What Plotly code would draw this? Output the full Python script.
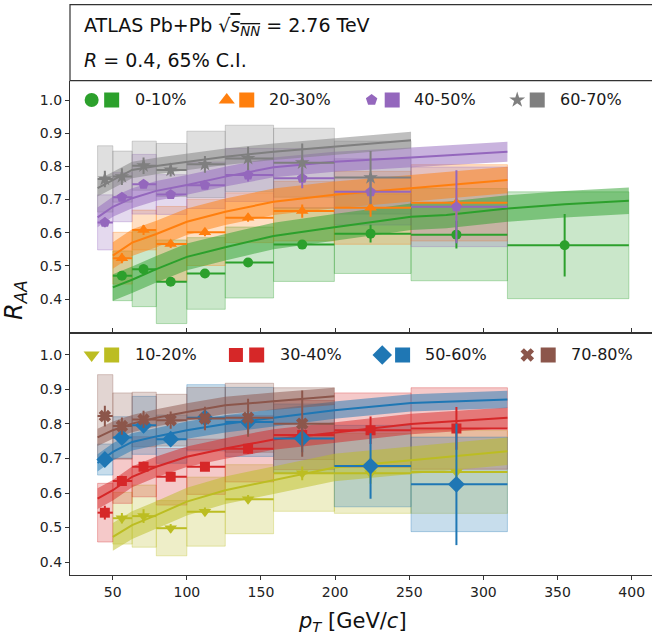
import plotly.graph_objects as go

# ---------------------------------------------------------------- data
pt_edges = [39.8, 50.1, 63.1, 79.4, 100.0, 125.9, 158.5, 199.5, 251.2, 316.2, 398.1]
pt_centers = [44.7, 56.2, 70.8, 89.1, 112.2, 141.3, 177.8, 223.9, 281.8, 354.8]

# top panel
raa_0_10 = [None, 0.470, 0.490, 0.452, 0.477, 0.510, 0.564, 0.597, 0.594, 0.562]
stat_0_10 = [None, 0.012, 0.015, 0.010, 0.010, 0.010, 0.012, 0.027, 0.042, 0.094]
sys_0_10 = [None, 0.075, 0.113, 0.126, 0.108, 0.107, 0.111, 0.120, 0.139, 0.161]

raa_20_30 = [None, 0.523, 0.608, 0.566, 0.601, 0.645, 0.665, 0.675, 0.690, None]
stat_20_30 = [None, 0.015, 0.015, 0.012, 0.012, 0.012, 0.020, 0.027, 0.040, None]
sys_20_30 = [None, 0.078, 0.060, 0.113, 0.100, 0.075, 0.090, 0.110, 0.115, None]

raa_40_50 = [0.631, 0.707, 0.746, 0.715, 0.743, 0.774, 0.764, 0.723, 0.678, None]
stat_40_50 = [0.015, 0.012, 0.012, 0.012, 0.012, 0.020, 0.030, 0.035, 0.110, None]
sys_40_50 = [0.083, 0.074, 0.090, 0.060, 0.070, 0.080, 0.090, 0.100, 0.120, None]

raa_60_70 = [0.762, 0.769, 0.802, 0.789, 0.806, 0.824, 0.811, 0.766, None, None]
stat_60_70 = [0.025, 0.025, 0.025, 0.020, 0.025, 0.035, 0.058, 0.080, None, None]
sys_60_70 = [0.100, 0.077, 0.074, 0.080, 0.100, 0.100, 0.104, 0.110, None, None]

# bottom panel
raa_10_20 = [None, 0.527, 0.533, 0.498, 0.546, 0.582, 0.657, 0.657, 0.661, None]
stat_10_20 = [None, 0.015, 0.020, 0.012, 0.012, 0.012, 0.020, 0.030, 0.035, None]
sys_10_20 = [None, 0.075, 0.090, 0.080, 0.100, 0.100, 0.110, 0.116, 0.120, None]

raa_30_40 = [0.543, 0.635, 0.676, 0.647, 0.676, 0.728, 0.768, 0.782, 0.787, None]
stat_30_40 = [0.020, 0.015, 0.015, 0.012, 0.012, 0.015, 0.020, 0.040, 0.062, None]
sys_30_40 = [0.085, 0.065, 0.087, 0.082, 0.080, 0.096, 0.100, 0.108, 0.118, None]

raa_50_60 = [0.697, 0.761, 0.796, 0.756, 0.818, 0.806, 0.758, 0.678, 0.625, None]
stat_50_60 = [0.020, 0.020, 0.020, 0.020, 0.025, 0.030, 0.040, 0.095, 0.176, None]
sys_50_60 = [0.045, 0.060, 0.084, 0.070, 0.096, 0.100, 0.100, 0.118, 0.137, None]

raa_70_80 = [0.823, 0.794, 0.813, 0.811, 0.816, 0.818, 0.801, None, None, None]
stat_70_80 = [0.030, 0.025, 0.025, 0.025, 0.034, 0.055, 0.096, None, None, None]
sys_70_80 = [0.120, 0.096, 0.079, 0.075, 0.090, 0.100, 0.104, None, None, None]

# model curves (65% credible interval bands)
curve_pt_0_10 = [50.1, 63.1, 79.4, 100.0, 125.9, 158.5, 199.5, 251.2, 275.0, 316.2, 354.8, 398.1]
curve_mid_0_10 = [0.435, 0.458, 0.490, 0.527, 0.556, 0.590, 0.616, 0.648, 0.653, 0.673, 0.686, 0.696]
curve_hw_0_10 = [0.040, 0.040, 0.040, 0.040, 0.040, 0.040, 0.040, 0.040, 0.040, 0.040, 0.040, 0.040]

curve_pt_20_30 = [50.1, 63.1, 79.4, 100.0, 125.9, 158.5, 199.5, 251.2, 316.2]
curve_mid_20_30 = [0.531, 0.570, 0.596, 0.633, 0.663, 0.693, 0.714, 0.734, 0.759]
curve_hw_20_30 = [0.040, 0.040, 0.040, 0.040, 0.040, 0.040, 0.040, 0.040, 0.040]

curve_pt_40_50 = [39.8, 50.1, 63.1, 79.4, 100.0, 125.9, 158.5, 199.5, 251.2, 316.2]
curve_mid_40_50 = [0.646, 0.678, 0.704, 0.726, 0.744, 0.769, 0.797, 0.814, 0.827, 0.844]
curve_hw_40_50 = [0.030, 0.030, 0.030, 0.030, 0.030, 0.030, 0.030, 0.030, 0.030, 0.030]

curve_pt_60_70 = [39.8, 50.1, 63.1, 79.4, 100.0, 125.9, 158.5, 199.5, 251.2]
curve_mid_60_70 = [0.734, 0.759, 0.789, 0.801, 0.814, 0.829, 0.844, 0.859, 0.879]
curve_hw_60_70 = [0.025, 0.025, 0.025, 0.025, 0.025, 0.025, 0.025, 0.025, 0.025]

curve_pt_10_20 = [50.1, 63.1, 79.4, 100.0, 125.9, 158.5, 199.5, 251.2, 316.2]
curve_mid_10_20 = [0.473, 0.507, 0.536, 0.575, 0.608, 0.637, 0.674, 0.695, 0.721]
curve_hw_10_20 = [0.040, 0.040, 0.040, 0.040, 0.040, 0.040, 0.040, 0.040, 0.040]

curve_pt_30_40 = [39.8, 50.1, 63.1, 79.4, 100.0, 125.9, 158.5, 199.5, 251.2, 316.2]
curve_mid_30_40 = [0.584, 0.608, 0.647, 0.676, 0.705, 0.729, 0.755, 0.774, 0.800, 0.818]
curve_hw_30_40 = [0.030, 0.030, 0.030, 0.030, 0.030, 0.030, 0.030, 0.030, 0.030, 0.030]

curve_pt_50_60 = [39.8, 50.1, 63.1, 79.4, 100.0, 125.9, 158.5, 199.5, 251.2, 316.2]
curve_mid_50_60 = [0.687, 0.719, 0.748, 0.764, 0.782, 0.800, 0.818, 0.840, 0.861, 0.871]
curve_hw_50_60 = [0.025, 0.025, 0.025, 0.025, 0.025, 0.025, 0.025, 0.025, 0.025, 0.025]

curve_pt_70_80 = [39.8, 50.1, 63.1, 79.4, 100.0, 125.9, 158.5, 199.5]
curve_mid_70_80 = [0.761, 0.782, 0.801, 0.818, 0.835, 0.854, 0.866, 0.880]
curve_hw_70_80 = [0.025, 0.025, 0.025, 0.025, 0.025, 0.025, 0.025, 0.025]

x_tick_vals = [50, 100, 150, 200, 250, 300, 350, 400]
y_tick_vals = [0.4, 0.5, 0.6, 0.7, 0.8, 0.9, 1.0]

# ---------------------------------------------------------------- styling
FONT = "DejaVu Sans"
AX = "#333333"

series = [
    dict(label="0-10%", rgb=(44, 160, 44), sym="circle", size=10, lsize=14, panel=1,
         raa=raa_0_10, stat=stat_0_10, sys=sys_0_10,
         cpt=curve_pt_0_10, cmid=curve_mid_0_10, chw=curve_hw_0_10),
    dict(label="20-30%", rgb=(255, 127, 14), sym="triangle-up", size=11, lsize=14, panel=1,
         raa=raa_20_30, stat=stat_20_30, sys=sys_20_30,
         cpt=curve_pt_20_30, cmid=curve_mid_20_30, chw=curve_hw_20_30),
    dict(label="40-50%", rgb=(148, 103, 189), sym="pentagon", size=11, lsize=12, panel=1,
         raa=raa_40_50, stat=stat_40_50, sys=sys_40_50,
         cpt=curve_pt_40_50, cmid=curve_mid_40_50, chw=curve_hw_40_50),
    dict(label="60-70%", rgb=(127, 127, 127), sym="star", size=11, lsize=12, panel=1,
         raa=raa_60_70, stat=stat_60_70, sys=sys_60_70,
         cpt=curve_pt_60_70, cmid=curve_mid_60_70, chw=curve_hw_60_70),
    dict(label="10-20%", rgb=(188, 189, 34), sym="triangle-down", size=11, lsize=14, panel=2,
         raa=raa_10_20, stat=stat_10_20, sys=sys_10_20,
         cpt=curve_pt_10_20, cmid=curve_mid_10_20, chw=curve_hw_10_20),
    dict(label="30-40%", rgb=(214, 39, 40), sym="square", size=10, lsize=14, panel=2,
         raa=raa_30_40, stat=stat_30_40, sys=sys_30_40,
         cpt=curve_pt_30_40, cmid=curve_mid_30_40, chw=curve_hw_30_40),
    dict(label="50-60%", rgb=(31, 119, 180), sym="diamond", size=13, lsize=15, panel=2,
         raa=raa_50_60, stat=stat_50_60, sys=sys_50_60,
         cpt=curve_pt_50_60, cmid=curve_mid_50_60, chw=curve_hw_50_60),
    dict(label="70-80%", rgb=(140, 86, 75), sym="x", size=11, lsize=12, panel=2,
         raa=raa_70_80, stat=stat_70_80, sys=sys_70_80,
         cpt=curve_pt_70_80, cmid=curve_mid_70_80, chw=curve_hw_70_80),
]

# legend layout: (marker x, patch x, text x) in pT units, one row per panel
legend_slots = {
    1: [(35.8, 49.3, 63.5), (126.9, 140.4, 153.8), (224.6, 238.5, 252.0), (322.8, 336.3, 350.1)],
    2: [(35.8, 49.3, 63.5), (133.1, 147.1, 161.7), (231.8, 245.5, 259.4), (329.6, 343.7, 357.9)],
}
legend_y = 1.0


def rgba(rgb, a):
    return "rgba(%d,%d,%d,%.3f)" % (rgb[0], rgb[1], rgb[2], a)


fig = go.Figure()


def axes_of(panel):
    return ("x", "y") if panel == 1 else ("x2", "y2")


# systematic-uncertainty boxes
for s in series:
    xa, ya = axes_of(s["panel"])
    for i, v in enumerate(s["raa"]):
        if v is None:
            continue
        lo, hi = v - s["sys"][i], v + s["sys"][i]
        x0, x1 = pt_edges[i], pt_edges[i + 1]
        fig.add_trace(go.Scatter(
            x=[x0, x1, x1, x0, x0], y=[lo, lo, hi, hi, lo],
            mode="lines", fill="toself", fillcolor=rgba(s["rgb"], 0.25),
            line=dict(color=rgba(s["rgb"], 0.32), width=1),
            hoverinfo="skip", showlegend=False, xaxis=xa, yaxis=ya))

# model bands and central curves
for s in series:
    xa, ya = axes_of(s["panel"])
    upper = [m + h for m, h in zip(s["cmid"], s["chw"])]
    lower = [m - h for m, h in zip(s["cmid"], s["chw"])]
    fig.add_trace(go.Scatter(
        x=s["cpt"] + s["cpt"][::-1], y=upper + lower[::-1],
        mode="lines", fill="toself", fillcolor=rgba(s["rgb"], 0.5),
        line=dict(width=0), hoverinfo="skip", showlegend=False,
        xaxis=xa, yaxis=ya))
for s in series:
    xa, ya = axes_of(s["panel"])
    fig.add_trace(go.Scatter(
        x=s["cpt"], y=s["cmid"], mode="lines",
        line=dict(color=rgba(s["rgb"], 1), width=2),
        showlegend=False, xaxis=xa, yaxis=ya))

# measured points with statistical errors and bin widths
for s in series:
    xa, ya = axes_of(s["panel"])
    idx = [i for i, v in enumerate(s["raa"]) if v is not None]
    xs = [pt_centers[i] for i in idx]
    col = rgba(s["rgb"], 1)
    fig.add_trace(go.Scatter(
        x=xs, y=[s["raa"][i] for i in idx], mode="markers",
        marker=dict(symbol=s["sym"], size=s["size"], color=col,
                    line=dict(width=0)),
        error_y=dict(type="data", array=[s["stat"][i] for i in idx],
                     color=col, thickness=2, width=0),
        error_x=dict(type="data", symmetric=False,
                     array=[pt_edges[i + 1] - pt_centers[i] for i in idx],
                     arrayminus=[pt_centers[i] - pt_edges[i] for i in idx],
                     color=col, thickness=2, width=0),
        showlegend=False, xaxis=xa, yaxis=ya))

# legend rows
annotations = []
counters = {1: 0, 2: 0}
for s in series:
    p = s["panel"]
    xa, ya = axes_of(p)
    mx, px, tx = legend_slots[p][counters[p]]
    counters[p] += 1
    col = rgba(s["rgb"], 1)
    fig.add_trace(go.Scatter(
        x=[mx], y=[legend_y], mode="markers",
        marker=dict(symbol=s["sym"], size=s["lsize"], color=col, line=dict(width=0)),
        showlegend=False, hoverinfo="skip", xaxis=xa, yaxis=ya))
    fig.add_trace(go.Scatter(
        x=[px], y=[legend_y], mode="markers",
        marker=dict(symbol="square", size=15, color=col, line=dict(width=0)),
        showlegend=False, hoverinfo="skip", xaxis=xa, yaxis=ya))
    annotations.append(dict(
        x=tx, y=legend_y, xref=xa, yref=ya, text=s["label"], showarrow=False,
        xanchor="left", yanchor="middle", font=dict(family=FONT, size=16, color="#1a1a1a")))

# ---------------------------------------------------------------- layout
W, H = 652, 638
ML, MB = 70, 63
plot_h = H - MB


def py(px_from_top):
    return (plot_h - px_from_top) / plot_h


def pxx(px):
    return (px - ML) / (W - ML)


top_dom = [py(332.7), py(80.7)]
bot_dom = [0, py(332.7)]

annotations += [
    dict(x=pxx(81.7), y=py(26.5), xref="paper", yref="paper", xanchor="left", yanchor="middle",
         showarrow=False, font=dict(family=FONT, size=19, color="#111"),
         text="ATLAS Pb+Pb \u221a<span style='text-decoration:overline'><i>s</i><sub><i>NN</i></sub></span> = 2.76 TeV"),
    dict(x=pxx(81.7), y=py(60.5), xref="paper", yref="paper", xanchor="left", yanchor="middle",
         showarrow=False, font=dict(family=FONT, size=19, color="#111"),
         text="<i>R</i> = 0.4, 65% C.I."),
    dict(x=pxx(15), y=py(300), xref="paper", yref="paper", textangle=-90,
         xanchor="center", yanchor="middle",
         showarrow=False, font=dict(family=FONT, size=24, color="#111"),
         text="<i>R</i><sub><i>AA</i></sub>"),
    dict(x=pxx(352.5), y=py(622), xref="paper", yref="paper",
         xanchor="center", yanchor="middle",
         showarrow=False, font=dict(family=FONT, size=21, color="#111"),
         text="<i>p</i><sub><i>T</i></sub> [GeV/<i>c</i>]"),
]

xr = [21.2, 413.7]
common_x = dict(range=xr, tickvals=x_tick_vals, showgrid=False, zeroline=False,
                showline=True, linecolor=AX, linewidth=1.2,
                tickfont=dict(family=FONT, size=14, color="#222"))
common_y = dict(tickvals=y_tick_vals, tickformat=".1f", showgrid=False, zeroline=False,
                showline=True, linecolor=AX, linewidth=1.2, ticks="outside",
                ticklen=4, tickwidth=1.2, tickcolor=AX,
                tickfont=dict(family=FONT, size=14, color="#222"))

fig.update_layout(
    width=W, height=H,
    margin=dict(l=ML, r=0, t=0, b=MB, pad=0),
    paper_bgcolor="white", plot_bgcolor="white",
    xaxis=dict(**common_x, domain=[0, 1], anchor="y", showticklabels=False, ticks=""),
    yaxis=dict(**common_y, domain=top_dom, range=[0.2984, 1.0582], anchor="x"),
    xaxis2=dict(**common_x, domain=[0, 1], anchor="y2", ticks="outside", ticklen=4,
                tickwidth=1.2, tickcolor=AX, mirror="ticks"),
    yaxis2=dict(**common_y, domain=bot_dom, range=[0.3624, 1.0645], anchor="x2"),
    annotations=annotations,
    shapes=[dict(type="rect", xref="paper", yref="paper", x0=0, x1=1.05,
                 y0=py(80.7), y1=py(4.7), line=dict(color=AX, width=1.2),
                 fillcolor="rgba(0,0,0,0)", layer="above")],
    showlegend=False,
)

fig.write_html("out.html")
